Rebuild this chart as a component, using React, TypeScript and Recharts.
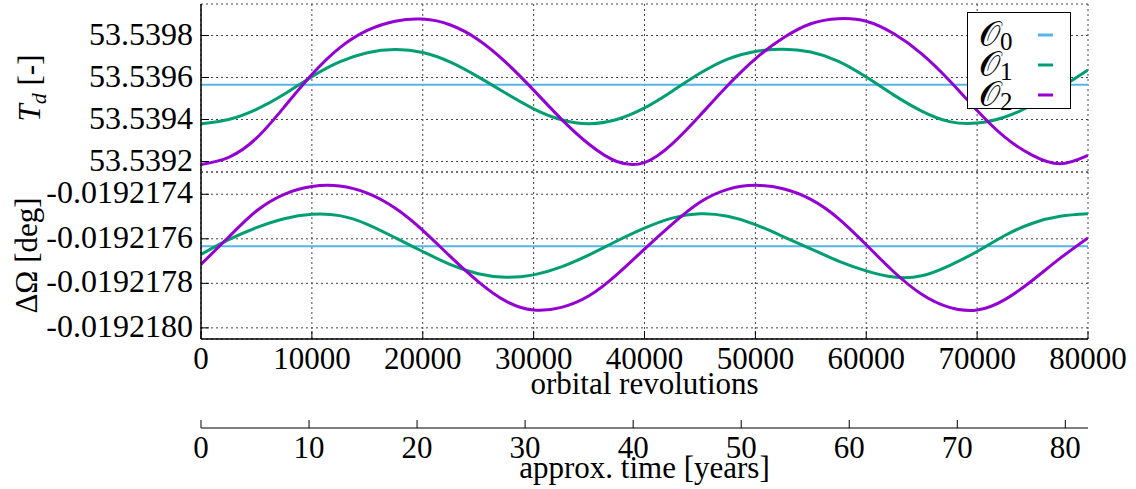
import { LineChart, Line, XAxis, YAxis, CartesianGrid, Legend } from 'recharts'

const FONT = "'Liberation Serif', 'Times New Roman', serif"

// orbital revolutions (x samples)
const revs = [
  0, 2500, 5000, 7500, 10000, 12500, 15000, 17500, 20000, 22500, 25000,
  27500, 30000, 32500, 35000, 37500, 40000, 42500, 45000, 47500, 50000,
  52500, 55000, 57500, 60000, 62500, 65000, 67500, 70000, 72500, 75000,
  77500, 80000,
]
const flatRevs = [0, 80000]

// T_d [-]
const tdO0 = [53.539565, 53.539565]
const tdO1 = [
  53.53938, 53.5394, 53.539448, 53.53952, 53.539604, 53.539674, 53.539718,
  53.539733, 53.539719, 53.539673, 53.539603, 53.539525, 53.539451, 53.539399,
  53.53938, 53.5394, 53.539455, 53.539535, 53.53962, 53.539688, 53.539724,
  53.539735, 53.539721, 53.539677, 53.539602, 53.539516, 53.53944, 53.53939,
  53.539383, 53.539412, 53.53947, 53.53955, 53.539636,
]
const tdO2 = [
  53.539186, 53.53922, 53.539311, 53.539459, 53.539614, 53.539741, 53.539824,
  53.539868, 53.539878, 53.53985, 53.53978, 53.539672, 53.53954, 53.539402,
  53.539282, 53.5392, 53.539195, 53.539284, 53.539419, 53.539562, 53.539689,
  53.539788, 53.539856, 53.53988, 53.539868, 53.539808, 53.539713, 53.539586,
  53.539443, 53.539316, 53.539229, 53.539189, 53.539229,
]

// ΔΩ [deg]
const omO0 = [-0.019217633, -0.019217633]
const omO1 = [
  -0.01921767, -0.019217604, -0.01921755, -0.01921751, -0.01921749,
  -0.019217496, -0.019217535, -0.019217595, -0.019217657, -0.019217716,
  -0.019217757, -0.019217773, -0.019217762, -0.019217726, -0.019217672,
  -0.01921761, -0.019217552, -0.019217507, -0.019217488, -0.019217499,
  -0.019217536, -0.01921759, -0.019217645, -0.0192177, -0.019217744,
  -0.019217772, -0.019217766, -0.01921772, -0.019217657, -0.019217585,
  -0.01921753, -0.019217499, -0.019217488,
]
const omO2 = [
  -0.019217715, -0.019217592, -0.019217475, -0.0192174, -0.019217365,
  -0.019217363, -0.019217395, -0.019217462, -0.019217562, -0.01921768,
  -0.019217792, -0.01921788, -0.01921792, -0.019217908, -0.019217856,
  -0.019217761, -0.019217646, -0.019217534, -0.019217436, -0.019217378,
  -0.01921736, -0.019217375, -0.019217423, -0.019217509, -0.019217627,
  -0.019217749, -0.019217849, -0.019217908, -0.01921792, -0.019217873,
  -0.019217786, -0.019217687, -0.019217596,
]

const revTicks = [0, 10000, 20000, 30000, 40000, 50000, 60000, 70000, 80000]
const yearTicks = [0, 10, 20, 30, 40, 50, 60, 70, 80]
const tdTicks = [53.5392, 53.5394, 53.5396, 53.5398]
const omTicks = [-0.019218, -0.0192178, -0.0192176, -0.0192174]

const revDomain = [0, 80000]
const yearDomain = [0, 82.1]
const tdDomain = [53.53915, 53.53995]
const omDomain = [-0.01921805, -0.0192173]

const names = ['𝒪0', '𝒪1', '𝒪2']
const colors = ['#56b4e9', '#009e73', '#9400d3']

const tdRows = revs.map((rev, i) => ({ rev, o1: tdO1[i], o2: tdO2[i] }))
const tdFlat = flatRevs.map((rev, i) => ({ rev, o0: tdO0[i] }))
const omRows = revs.map((rev, i) => ({ rev, o1: omO1[i], o2: omO2[i] }))
const omFlat = flatRevs.map((rev, i) => ({ rev, o0: omO0[i] }))

const FS = 31
const YFS = 32
const frame = { stroke: '#000', strokeWidth: 1.5 }

// x ticks drawn inward; dir 1 = up (bottom axis), -1 = down (top axis)
const xTick = (dir: number, fmt?: (v: number) => string) => (p: any) => (
  <g>
    <line x1={p.x} x2={p.x} y1={p.y} y2={p.y - 8 * dir} stroke="#000" />
    {fmt && (
      <text x={p.x} y={p.y + 30} textAnchor="middle" fontSize={FS} fontFamily={FONT} fill="#000">
        {fmt(p.payload.value)}
      </text>
    )}
  </g>
)

const yTick = (dir: number, fmt?: (v: number) => string) => (p: any) => (
  <g>
    <line x1={p.x} x2={p.x + 8 * dir} y1={p.y} y2={p.y} stroke="#000" />
    {fmt && (
      <text x={p.x - 8} y={p.y + 9} textAnchor="end" fontSize={YFS} fontFamily={FONT} fill="#000">
        {fmt(p.payload.value)}
      </text>
    )}
  </g>
)

const TdTitle = (p: any) => {
  const cx = p.viewBox.x + 40
  const cy = p.viewBox.y + p.viewBox.height / 2
  return (
    <text transform={`rotate(-90 ${cx} ${cy})`} x={cx} y={cy} textAnchor="middle" fontSize={FS} fontFamily={FONT} fill="#000">
      <tspan fontStyle="italic">T</tspan>
      <tspan fontStyle="italic" fontSize={22} dy={6}>d</tspan>
      <tspan dy={-6}> [-]</tspan>
    </text>
  )
}

const OmTitle = (p: any) => {
  const cx = p.viewBox.x + 37
  const cy = p.viewBox.y + p.viewBox.height / 2
  return (
    <text transform={`rotate(-90 ${cx} ${cy})`} x={cx} y={cy} textAnchor="middle" fontSize={FS} fontFamily={FONT} fill="#000">
      ΔΩ [deg]
    </text>
  )
}

const xTitle = (text: string, dy: number) => (p: any) => (
  <text x={p.viewBox.x + p.viewBox.width / 2} y={p.viewBox.y + dy} textAnchor="middle" fontSize={FS} fontFamily={FONT} fill="#000">
    {text}
  </text>
)

function LegendBox({ payload }: any) {
  return (
    <svg width={104} height={97} style={{ display: 'block', overflow: 'visible' }}>
      <rect x={0.5} y={0.5} width={103} height={96} fill="#fff" stroke="#000" />
      {(payload ?? []).map((e: any, i: number) => {
        const name = String(e.value)
        return (
          <g key={name}>
            <text x={12} y={34 + 30 * i} fontFamily={FONT} fontSize={34} fill="#000">
              {name.slice(0, -1)}
              <tspan fontSize={25} dy={4}>{name.slice(-1)}</tspan>
            </text>
            <line x1={71} x2={86} y1={23 + 30 * i} y2={23 + 30 * i} stroke={e.color} strokeWidth={3} />
          </g>
        )
      })}
    </svg>
  )
}

const fmt4 = (v: number) => v.toFixed(4)
const fmt7 = (v: number) => v.toFixed(7)
const fmtInt = (v: number) => String(v)

export default function App() {
  return (
    <div style={{ position: 'absolute', left: 0, top: 0, width: 1136, height: 489, background: '#fff' }}>
      <div style={{ position: 'absolute', left: 0, top: 0 }}>
        <LineChart width={1136} height={176} data={tdRows} margin={{ top: 4, right: 48, bottom: 4, left: 0 }}>
          <CartesianGrid stroke="#444" strokeDasharray="2 3" />
          <XAxis dataKey="rev" type="number" domain={revDomain} ticks={revTicks} allowDataOverflow interval={0}
            height={0} tickSize={0} tickMargin={0} tickLine={false} axisLine={frame} tick={xTick(1)} />
          <XAxis xAxisId="top" orientation="top" dataKey="rev" type="number" domain={revDomain} ticks={revTicks}
            allowDataOverflow interval={0} height={0} tickSize={0} tickMargin={0} tickLine={false} axisLine={frame} tick={xTick(-1)} />
          <YAxis type="number" domain={tdDomain} ticks={tdTicks} allowDataOverflow interval={0} width={201}
            tickSize={0} tickMargin={0} tickLine={false} axisLine={frame} tick={yTick(1, fmt4)} label={TdTitle} />
          <YAxis yAxisId="r" orientation="right" type="number" domain={tdDomain} ticks={tdTicks} allowDataOverflow
            interval={0} width={0} tickSize={0} tickMargin={0} tickLine={false} axisLine={frame} tick={yTick(-1)} />
          <Line data={tdFlat} dataKey="o0" name={names[0]} stroke={colors[0]} strokeWidth={2} dot={false} isAnimationActive={false} />
          <Line type="natural" dataKey="o1" name={names[1]} stroke={colors[1]} strokeWidth={3} dot={false} isAnimationActive={false} />
          <Line type="natural" dataKey="o2" name={names[2]} stroke={colors[2]} strokeWidth={3} dot={false} isAnimationActive={false} />
          <Legend layout="vertical" verticalAlign="middle" align="center" content={LegendBox}
            wrapperStyle={{ left: 967, top: 12, width: 104, height: 97 }} />
        </LineChart>
      </div>
      <div style={{ position: 'absolute', left: 0, top: 168 }}>
        <LineChart width={1136} height={321} data={omRows} margin={{ top: 4, right: 48, bottom: 0, left: 0 }}>
          <CartesianGrid stroke="#444" strokeDasharray="2 3" />
          <XAxis dataKey="rev" type="number" domain={revDomain} ticks={revTicks} allowDataOverflow interval={0}
            height={89} tickSize={0} tickMargin={0} tickLine={false} axisLine={frame} tick={xTick(1, fmtInt)}
            label={xTitle('orbital revolutions', 55)} />
          <XAxis xAxisId="yr" dataKey="yr" type="number" domain={yearDomain} ticks={yearTicks} allowDataOverflow interval={0}
            height={61} tickSize={0} tickMargin={0} tickLine={false} axisLine={{ stroke: '#000', strokeWidth: 1.2 }}
            tick={xTick(1, fmtInt)} label={xTitle('approx. time [years]', 50)} />
          <XAxis xAxisId="top" orientation="top" dataKey="rev" type="number" domain={revDomain} ticks={revTicks}
            allowDataOverflow interval={0} height={0} tickSize={0} tickMargin={0} tickLine={false} axisLine={frame} tick={xTick(-1)} />
          <YAxis type="number" domain={omDomain} ticks={omTicks} allowDataOverflow interval={0} width={201}
            tickSize={0} tickMargin={0} tickLine={false} axisLine={frame} tick={yTick(1, fmt7)} label={OmTitle} />
          <YAxis yAxisId="r" orientation="right" type="number" domain={omDomain} ticks={omTicks} allowDataOverflow
            interval={0} width={0} tickSize={0} tickMargin={0} tickLine={false} axisLine={frame} tick={yTick(-1)} />
          <Line data={omFlat} dataKey="o0" name={names[0]} stroke={colors[0]} strokeWidth={2} dot={false} isAnimationActive={false} />
          <Line type="natural" dataKey="o1" name={names[1]} stroke={colors[1]} strokeWidth={3} dot={false} isAnimationActive={false} />
          <Line type="natural" dataKey="o2" name={names[2]} stroke={colors[2]} strokeWidth={3} dot={false} isAnimationActive={false} />
        </LineChart>
      </div>
    </div>
  )
}
